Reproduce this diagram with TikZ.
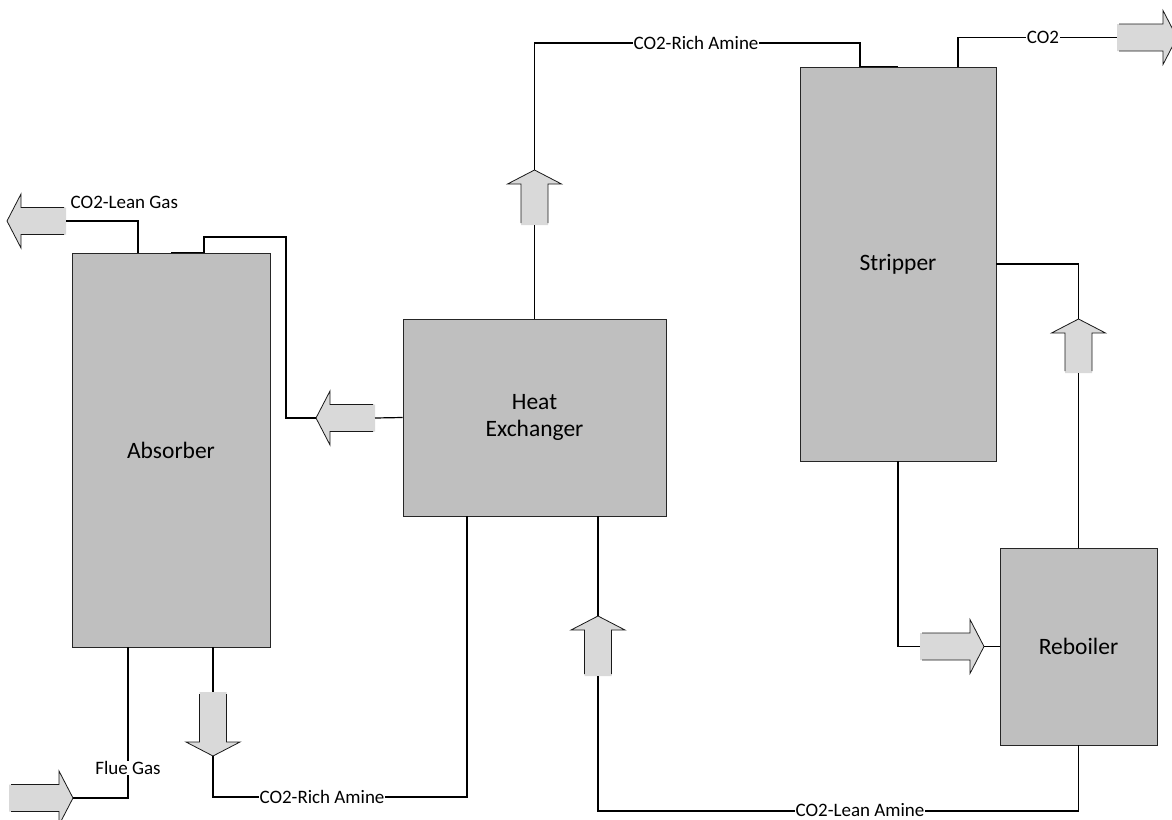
\documentclass[tikz,border=0pt]{standalone}
\usepackage{fontspec}
\setmainfont{Carlito}
\usepackage{tikz}
\usetikzlibrary{positioning}
\definecolor{unitgray}{HTML}{BFBFBF}
\definecolor{arrowgray}{HTML}{D9D9D9}
\tikzset{
  unit/.style={
    rectangle, draw=black!85, line width=0.9pt, fill=unitgray,
    inner sep=0pt, align=center, font=\fontsize{23.5}{27}\selectfont
  },
  pipe/.style={draw=black, line width=1.2pt},
  tag/.style={fill=white, inner xsep=0.5pt, inner ysep=0pt, font=\fontsize{19}{23}\selectfont},
  arrowline/.style={draw=black!90, line width=0.8pt},
  flowarrow/.pic={
    \fill[arrowgray] (0,0) -- (-14,-27) -- (-14,-13.5) -- (-#1,-13.5)
      -- (-#1,13.5) -- (-14,13.5) -- (-14,27) -- cycle;
    \draw[arrowline] (-#1+2,13.5) -- (-14,13.5) -- (-14,27) -- (0,0)
      -- (-14,-27) -- (-14,-13.5) -- (-#1+2,-13.5);
    \coordinate (-tip) at (0,0);
    \coordinate (-tail) at (-#1,0);
  }
}

\begin{document}
\begin{tikzpicture}[x=1pt, y=-1pt]
  \useasboundingbox (0,0) rectangle (1172,819);

  % Units
  \node[unit, minimum width=198pt, minimum height=394pt] (absorber) at (171,450) {Absorber};
  \node[unit, minimum width=263pt, minimum height=197pt] (hx) at (534.5,417.5) {Heat\\Exchanger};
  \node[unit, minimum width=196pt, minimum height=394pt] (stripper) at (898,264) {Stripper};
  \node[unit, minimum width=157pt, minimum height=197pt] (reboiler) at (1078.5,646.5) {Reboiler};

  % Ports
  \coordinate (gasout) at (138,253);
  \coordinate (gasin) at (128,647);
  \coordinate (richout) at (213,647);
  \coordinate (hxrich) at (467,516);
  \coordinate (co2out) at (958,67);

  % Flow arrows
  \pic[rotate=180] (leanout) at (7,221) {flowarrow=59};
  \pic[rotate=180] (hxret) at (316,418) {flowarrow=59};
  \pic[rotate=90] (hxup) at (534.5,170) {flowarrow=55};
  \pic (co2) at (1177,37.5) {flowarrow=60};
  \pic[rotate=90] (boilup) at (1078.5,319) {flowarrow=54};
  \pic (toboil) at (984,646.5) {flowarrow=64};
  \pic[rotate=90] (leanup) at (598,616) {flowarrow=60};
  \pic[rotate=-90] (richdn) at (213,756) {flowarrow=64};
  \pic (flue) at (73,798) {flowarrow=64};

  % Pipes
  \draw[pipe] (gasout) |- (leanout-tail);
  \draw[pipe] (hx.west) -- (hxret-tail);
  \draw[pipe] (hxret-tip) -- ++(-30,0) |- (204,237) |- (absorber.north);
  \draw[pipe] (hx.north) -- (hxup-tail);
  \draw[pipe] (hxup-tip) |- (860,43) |- (stripper.north);
  \draw[pipe] (co2out) |- (co2-tail);
  \draw[pipe] (stripper.east) -| (boilup-tip);
  \draw[pipe] (boilup-tail) -- (reboiler.north);
  \draw[pipe] (stripper.south) |- (toboil-tail);
  \draw[pipe] (toboil-tip) -- (reboiler.west);
  \draw[pipe] (reboiler.south) |- (860,811) -| (leanup-tail);
  \draw[pipe] (leanup-tip) -- (leanup-tip |- hx.south);
  \draw[pipe] (richout) -- (richdn-tail);
  \draw[pipe] (richdn-tip) |- (322,797) -| (hxrich);
  \draw[pipe] (flue-tip) -| (gasin);

  % Stream labels
  \node[tag, fill=none, anchor=west] (leangaslbl) at (70,202) {CO2-Lean Gas};
  \node[tag] (richtoplbl) at (696,43) {CO2-Rich Amine};
  \node[tag] (co2lbl) at (1043,37.5) {CO2};
  \node[tag] (leanaminelbl) at (860,810) {CO2-Lean Amine};
  \node[tag] (richbotlbl) at (322,797) {CO2-Rich Amine};
  \node[tag] (fluelbl) at (128,768) {Flue Gas};

\end{tikzpicture}
\end{document}
